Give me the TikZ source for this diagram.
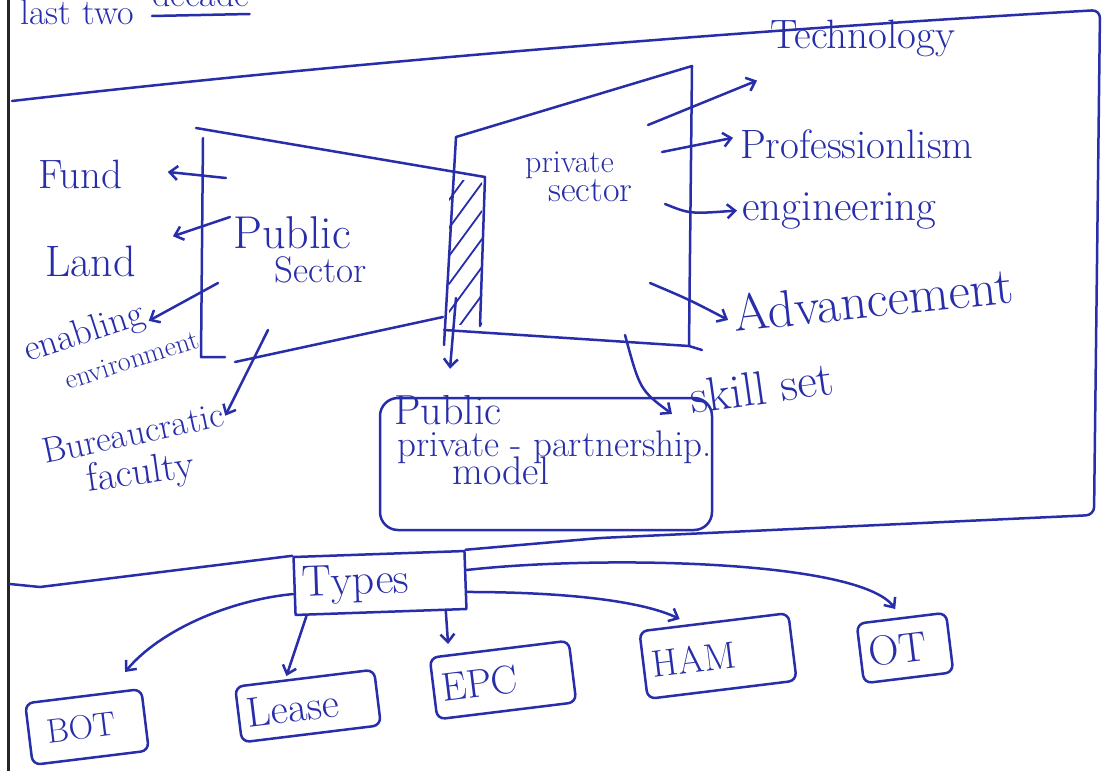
\documentclass[tikz,border=0pt]{standalone}
\usetikzlibrary{arrows.meta,positioning}
\definecolor{ink}{RGB}{40,46,170}
\newcommand{\hand}[1]{\fontsize{#1}{#1}\selectfont}
\tikzset{
  ink line/.style={draw=ink, line width=2.5pt, line cap=round, line join=round},
  pointer/.style={ink line, -{Straight Barb[length=8pt,width=14pt]}},
  word/.style={text=ink, inner sep=0pt, anchor=base west},
  typebox/.style={ink line, text=ink, rounded corners=8pt, rotate=7, inner xsep=8pt, inner ysep=0pt, align=left},
}
\begin{document}
\begin{tikzpicture}[x=1pt, y=-1pt]
  \fill[white] (0,0) rectangle (1107,771);
  \useasboundingbox (0,0) rectangle (1107,771);
  % edge of the scanned page
  \draw[black!85, line width=3pt] (8,0) -- (8,771);
  % heading, cut at the top
  \node[word, font=\hand{36}] (head) at (20,24) {last two};
  \node[word, font=\hand{36}] (decade) at (152,6) {decade};
  \draw[ink line] ([yshift=-10pt]decade.base west) -- ([yshift=-8pt]decade.base east);
  % public sector block
  \draw[ink line] (196,128) -- (485,177);
  \draw[ink line] (203,138) -- (201,357) -- (225,357);
  \draw[ink line] (235,362) -- (443,317);
  \node[word, font=\hand{46}] (pubA) at (233,248) {Public};
  \node[word, font=\hand{37}] (pubB) at (274,282) {Sector};
  % hatched strip
  \draw[ink line] (485,177) -- (480,326);
  \begin{scope}
    \clip (449,180) rectangle (482,324);
    \foreach \y in {200,228,...,368}
      \draw[ink line, line width=1.8pt] (449,\y) -- (482,\y-45);
  \end{scope}
  % private sector block
  \draw[ink line] (456,137) -- (692,66) -- (689,346) -- (702,350);
  \draw[ink line] (456,137) -- (444,345);
  \draw[ink line] (444,330) -- (689,346);
  \node[word, font=\hand{32}] (privA) at (525,172) {private};
  \node[word, font=\hand{36}] (privB) at (548,201) {sector};
  % what the public side gives
  \node[word, font=\hand{41}] (fund) at (38,188) {Fund};
  \node[word, font=\hand{44}] (land) at (45,276) {Land};
  \node[word, font=\hand{37}, rotate=18] (enab) at (28,362) {enabling};
  \node[word, font=\hand{28}, rotate=18] (envir) at (68,390) {environment};
  \node[word, font=\hand{36}, rotate=12] (bur) at (45,464) {Bureaucratic};
  \node[word, font=\hand{40}, rotate=8] (fac) at (88,492) {faculty};
  \coordinate (fundT) at (226,178);
  \coordinate (landT) at (230,217);
  \coordinate (enabT) at (218,283);
  \coordinate (burT) at (268,330);
  \draw[pointer] (fundT) -- ([xshift=45pt,yshift=2pt]fund.east);
  \draw[pointer] (landT) -- ([xshift=37pt,yshift=9pt]land.north east);
  \draw[pointer] (enabT) -- ([xshift=5pt,yshift=-6pt]enab.east);
  \draw[pointer] (burT) -- ([xshift=2pt,yshift=-2pt]bur.east);
  % what the private side gives
  \node[word, font=\hand{41}] (tech) at (770,48) {Technology};
  \node[word, font=\hand{41}] (prof) at (740,158) {Professionlism};
  \node[word, font=\hand{43}] (engg) at (742,220) {engineering};
  \node[word, font=\hand{52}, rotate=6] (adv) at (735,332) {Advancement};
  \node[word, font=\hand{48}, rotate=8] (skill) at (692,414) {skill set};
  \coordinate (techT) at (648,125);
  \coordinate (profT) at (662,152);
  \coordinate (enggT) at (665,204);
  \coordinate (advT) at (650,283);
  \coordinate (skillT) at (625,335);
  \draw[pointer] (techT) -- ([xshift=-13pt,yshift=-24pt]tech.south west);
  \draw[pointer] (profT) -- ([xshift=-7pt,yshift=6pt]prof.west);
  \draw[pointer] (enggT) .. controls (690,214) .. ([xshift=-5pt]engg.west);
  \draw[pointer] (advT) .. controls (690,300) .. ([xshift=-5pt,yshift=-6pt]adv.west);
  \draw[pointer] (skillT) .. controls (640,390) .. ([xshift=-20pt]skill.base west);
  % the partnership
  \node[ink line, rounded corners=18pt, minimum width=332pt, minimum height=132pt] (ppp) at (546,464) {};
  \node[word, font=\hand{42}] (pppA) at (394,424) {Public};
  \node[word, font=\hand{37}] (pppB) at (397,456) {private - partnership.};
  \node[word, font=\hand{40}] (pppC) at (452,484) {model};
  \coordinate (stripT) at (456,298);
  \draw[pointer] (stripT) -- ([xshift=-96pt,yshift=28pt]ppp.north);
  % types
  \node[ink line, text=ink, font=\hand{44}, rotate=2, text width=155pt, align=left,
        inner xsep=8pt, minimum height=58pt] (types) at (380,583) {Types};
  % frame, closed by the line through the types box
  \draw[ink line, rounded corners=8pt] (12,101) .. controls (350,62) and (750,30) .. (1100,10)
    -- (1094,515) -- (600,538) -- (types.north east);
  \draw[ink line] (10,584) -- (40,587) -- (types.north west);
  \node[typebox, font=\hand{34}, text width=101pt, minimum height=62pt] (bot) at (87,727) {\hspace*{10pt}BOT};
  \node[typebox, font=\hand{42}, text width=124pt, minimum height=56pt] (lease) at (308,706) {Lease};
  \node[typebox, font=\hand{40}, text width=124pt, minimum height=62pt] (epc) at (503,680) {EPC};
  \node[typebox, font=\hand{38}, text width=134pt, minimum height=68pt] (ham) at (718,656) {HAM\\[14pt]};
  \node[typebox, font=\hand{42}, text width=74pt, minimum height=60pt] (ot) at (905,648) {OT};
  \draw[pointer] ([yshift=-8pt]types.west) .. controls (230,600) and (160,630) .. ([xshift=42pt,yshift=23pt]bot.north);
  \draw[pointer] ([xshift=12pt]types.south west) -- ([xshift=-18pt,yshift=1pt]lease.north);
  \draw[pointer] ([xshift=-22pt]types.south east) -- ([xshift=-51pt,yshift=4pt]epc.north);
  \draw[pointer] ([yshift=-12pt]types.east) .. controls (560,592) and (640,600) .. ([xshift=-34pt,yshift=2pt]ham.north);
  \draw[pointer] ([yshift=10pt]types.east) .. controls (600,555) and (860,560) .. ([xshift=-6pt,yshift=8pt]ot.north);
\end{tikzpicture}
\end{document}
